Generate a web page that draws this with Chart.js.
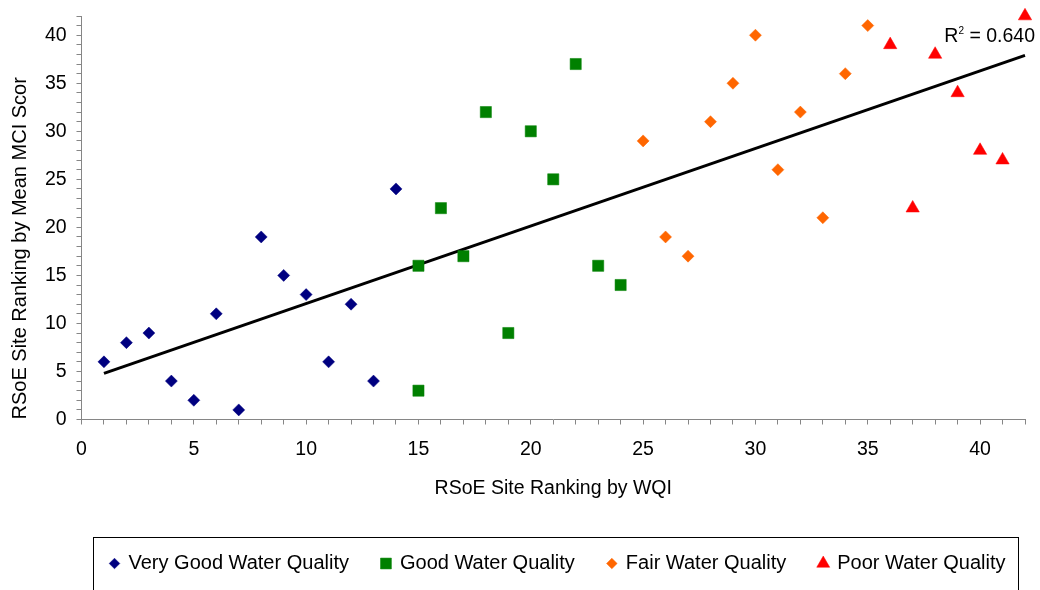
<!DOCTYPE html>
<html>
<head>
<meta charset="utf-8">
<script src="https://cdn.jsdelivr.net/npm/chart.js@4.4.1/dist/chart.umd.min.js"></script>
<style>
  html, body { margin: 0; padding: 0; background: #ffffff; }
  canvas { display: block; }
</style>
</head>
<body>
<canvas id="chart" width="1040" height="590"></canvas>
<script>
// Site rankings: WQI rank (x) against mean MCI score rank (y), grouped by water quality class
const veryGoodX = [1, 2, 3, 4, 5, 6, 7, 8, 9, 10, 11, 12, 13, 14];
const veryGoodY = [6, 8, 9, 4, 2, 11, 1, 19, 15, 13, 6, 12, 4, 24];
const goodX = [15, 15, 16, 17, 18, 19, 20, 21, 22, 23, 24];
const goodY = [16, 3, 22, 17, 32, 9, 30, 25, 37, 16, 14];
const fairX = [25, 26, 27, 28, 29, 30, 31, 32, 33, 34, 35];
const fairY = [29, 19, 17, 31, 35, 40, 26, 32, 21, 36, 41];
const poorX = [36, 37, 38, 39, 40, 41, 42];
const poorY = [39, 22, 38, 34, 28, 27, 42];

// Linear trend line end points and its fit statistic
const trendX = [1, 42];
const trendY = [4.8, 37.9];
const rSquaredText = '0.640';

const seriesNames = ['Very Good Water Quality', 'Good Water Quality', 'Fair Water Quality', 'Poor Water Quality'];
const xAxisTitle = 'RSoE Site Ranking by WQI';
const yAxisTitle = 'RSoE Site Ranking by Mean MCI Scor';
const axisMin = 0;
const axisMax = 42;
const labelEvery = 5;

const FONT = "'Liberation Sans', Arial, Helvetica, sans-serif";
const AXIS_GREY = '#868686';
Chart.defaults.font.family = FONT;
Chart.defaults.color = '#000000';

const toPoints = (xs, ys) => xs.map((x, i) => ({ x: x, y: ys[i] }));
const majorOnly = (v) => (v % labelEvery === 0 ? v : '');

function scatterSet(name, xs, ys, style, radius, legendRadius, colour) {
  return {
    label: name,
    data: toPoints(xs, ys),
    pointStyle: style,
    pointRadius: radius,
    pointHoverRadius: radius,
    legendRadius: legendRadius,
    backgroundColor: colour,
    borderColor: colour,
    borderWidth: 0.5,
    clip: false
  };
}

// Fallback marker drawing if the helper is not exposed
function drawMarker(ctx, style, r, x, y) {
  if (Chart.helpers && Chart.helpers.drawPoint) {
    Chart.helpers.drawPoint(ctx, { pointStyle: style, radius: r, rotation: 0, borderWidth: 0.5 }, x, y);
    return;
  }
  ctx.beginPath();
  if (style === 'rectRot') {
    ctx.moveTo(x, y - r); ctx.lineTo(x + r, y); ctx.lineTo(x, y + r); ctx.lineTo(x - r, y);
  } else if (style === 'triangle') {
    ctx.moveTo(x, y - r);
    ctx.lineTo(x + r * Math.sin(2 * Math.PI / 3), y + r / 2);
    ctx.lineTo(x - r * Math.sin(2 * Math.PI / 3), y + r / 2);
  } else {
    const h = r * Math.SQRT1_2;
    ctx.rect(x - h, y - h, 2 * h, 2 * h);
  }
  ctx.closePath();
  ctx.fill();
}

// Framed legend row under the axis title, and the R² annotation by the trend line
const chartExtras = {
  id: 'chartExtras',
  afterDraw(chart) {
    const { ctx, chartArea } = chart;
    ctx.save();

    // legend frame (runs off the bottom edge)
    const frameLeft = Math.round(chartArea.left + 12) + 0.5;
    const frameRight = Math.round(chartArea.right - 7) + 0.5;
    const frameTop = Math.round(chartArea.bottom + 117.5) + 0.5;
    ctx.strokeStyle = '#000000';
    ctx.lineWidth = 1;
    ctx.strokeRect(frameLeft, frameTop, frameRight - frameLeft, 100);

    // legend entries taken from the scatter datasets
    const rowY = chartArea.bottom + 144;
    ctx.font = '20px ' + FONT;
    ctx.textBaseline = 'middle';
    ctx.textAlign = 'left';
    let x = frameLeft + 21;
    chart.data.datasets.forEach((ds) => {
      if (!ds.legendRadius) return;
      ctx.fillStyle = ds.backgroundColor;
      ctx.strokeStyle = ds.borderColor;
      ctx.lineWidth = 0.5;
      drawMarker(ctx, ds.pointStyle, ds.legendRadius, x, rowY);
      ctx.fillStyle = '#000000';
      ctx.fillText(ds.label, x + 14, rowY);
      x += 14 + ctx.measureText(ds.label).width + 37;
    });

    // R² label
    const base = chartArea.top + 26;
    const endX = chartArea.right + 10;
    ctx.fillStyle = '#000000';
    ctx.textBaseline = 'alphabetic';
    const bigFont = '19.5px ' + FONT;
    const supFont = '10px ' + FONT;
    ctx.font = bigFont;
    const wR = ctx.measureText('R').width;
    const rest = ' = ' + rSquaredText;
    const wRest = ctx.measureText(rest).width;
    ctx.font = supFont;
    const wSup = ctx.measureText('2').width;
    const startX = endX - (wR + wSup + wRest);
    ctx.font = bigFont;
    ctx.fillText('R', startX, base);
    ctx.font = supFont;
    ctx.fillText('2', startX + wR, base - 8.4);
    ctx.font = bigFont;
    ctx.fillText(rest, startX + wR + wSup, base);
    ctx.restore();
  }
};

function axisOptions(titleText, titleExtra, tickPadding) {
  return {
    type: 'linear',
    min: axisMin,
    max: axisMax,
    ticks: {
      stepSize: 1,
      autoSkip: false,
      maxRotation: 0,
      padding: tickPadding,
      font: { size: 19.5 },
      color: '#000000',
      callback: majorOnly
    },
    grid: {
      display: true,
      drawOnChartArea: false,
      drawTicks: true,
      tickLength: 5,
      tickColor: AXIS_GREY,
      tickWidth: 1
    },
    border: { display: true, color: AXIS_GREY, width: 1 },
    title: Object.assign({
      display: true,
      text: titleText,
      color: '#000000',
      font: { size: 19.5 }
    }, titleExtra)
  };
}

const yAxis = axisOptions(yAxisTitle, { align: 'start', font: { size: 20 }, padding: { top: 8, bottom: 3.2 } }, 9.8);
// the unlabelled top tick needs no headroom above the plot
yAxis.afterFit = (scale) => { scale.paddingTop = 0; };

new Chart(document.getElementById('chart'), {
  type: 'scatter',
  data: {
    datasets: [
      scatterSet(seriesNames[0], veryGoodX, veryGoodY, 'rectRot', 6, 5.3, '#000080'),
      scatterSet(seriesNames[1], goodX, goodY, 'rect', 7.9, 7.7, '#008000'),
      scatterSet(seriesNames[2], fairX, fairY, 'rectRot', 6, 5.3, '#FF6600'),
      scatterSet(seriesNames[3], poorX, poorY, 'triangle', 7.7, 7.5, '#FF0000'),
      {
        type: 'line',
        label: 'Linear trend',
        data: toPoints(trendX, trendY),
        borderColor: '#000000',
        backgroundColor: '#000000',
        borderWidth: 3,
        pointRadius: 0,
        fill: false,
        showLine: true,
        clip: false
      }
    ]
  },
  options: {
    responsive: false,
    animation: false,
    devicePixelRatio: 1,
    layout: { padding: { top: 16, right: 15, bottom: 68.5, left: 0 } },
    scales: {
      x: axisOptions(xAxisTitle, { padding: { top: 3.4, bottom: 20.8 } }, 13),
      y: yAxis
    },
    plugins: {
      legend: { display: false },
      tooltip: { enabled: false }
    }
  },
  plugins: [chartExtras]
});
</script>
</body>
</html>
